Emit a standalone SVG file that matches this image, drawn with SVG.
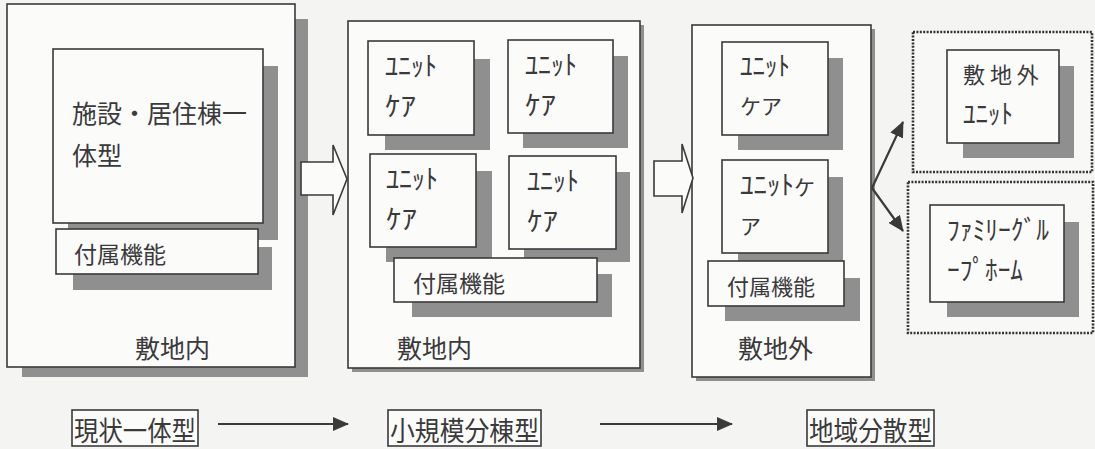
<svg xmlns="http://www.w3.org/2000/svg" width="1095" height="449" viewBox="0 0 1095 449">
<style>
.bg{fill:#f4f4f2}
.sh{fill:#8f8f8f}
.bx{fill:#fbfbfa;stroke:#3a3a3a;stroke-width:1.6}
.dot{fill:#f8f8f6;stroke:#333;stroke-width:2.6;stroke-dasharray:2 1.4}
.t{font-family:"Noto Sans CJK JP","Noto Sans CJK SC",sans-serif;fill:#3a3a3a}
.big{font-size:25px}
.mid{font-size:23px}
.kana{font-size:27px}
.lbl{font-size:25px}
.ln{stroke:#3a3a3a;stroke-width:2.2;fill:none}
.hol{fill:#fbfbfa;stroke:#3a3a3a;stroke-width:1.6}
</style>
<defs>
<marker id="ah" viewBox="0 0 16 14" refX="15" refY="7" markerWidth="16" markerHeight="14" markerUnits="userSpaceOnUse" orient="auto">
<path d="M0,0 L16,7 L0,14 z" fill="#3a3a3a"/>
</marker>
</defs>
<rect class="bg" x="0" y="0" width="1095" height="449"/>

<!-- Panel 1 -->
<g id="panel1">
<rect class="sh" x="22" y="19" width="286" height="358"/>
<rect class="bx" x="7" y="4" width="288" height="363"/>
<text class="t lbl" x="135" y="358">敷地内</text>
</g>
<g id="p1-main">
<rect class="sh" x="68" y="66" width="210" height="174"/>
<rect class="bx" x="53" y="49" width="210" height="174"/>
<text class="t big" x="72" y="123">施設・居住棟一</text>
<text class="t big" x="72" y="165">体型</text>
</g>
<g id="p1-fuzoku">
<rect class="sh" x="73" y="247" width="199" height="43"/>
<rect class="bx" x="56" y="229" width="202" height="45"/>
<text class="t mid" x="74" y="263">付属機能</text>
</g>

<!-- Panel 2 -->
<g id="panel2">
<rect class="sh" x="352" y="25" width="292" height="347"/>
<rect class="bx" x="348" y="21" width="292" height="347"/>
<text class="t lbl" x="397" y="358">敷地内</text>
</g>
<g id="p2-u1">
<rect class="sh" x="385" y="59" width="105" height="91"/>
<rect class="bx" x="368" y="41" width="106" height="94"/>
<text class="t kana" x="385" y="76" textLength="52" lengthAdjust="spacingAndGlyphs">ﾕﾆｯﾄ</text>
<text class="t kana" x="385" y="116" textLength="31" lengthAdjust="spacingAndGlyphs">ｹｱ</text>
</g>
<g id="p2-u2">
<rect class="sh" x="523" y="56" width="105" height="92"/>
<rect class="bx" x="508" y="40" width="105" height="93"/>
<text class="t kana" x="525" y="75" textLength="52" lengthAdjust="spacingAndGlyphs">ﾕﾆｯﾄ</text>
<text class="t kana" x="525" y="115" textLength="31" lengthAdjust="spacingAndGlyphs">ｹｱ</text>
</g>
<g id="p2-u3">
<rect class="sh" x="386" y="171" width="106" height="91"/>
<rect class="bx" x="370" y="154" width="106" height="93"/>
<text class="t kana" x="386" y="189" textLength="52" lengthAdjust="spacingAndGlyphs">ﾕﾆｯﾄ</text>
<text class="t kana" x="386" y="229" textLength="31" lengthAdjust="spacingAndGlyphs">ｹｱ</text>
</g>
<g id="p2-u4">
<rect class="sh" x="524" y="172" width="106" height="90"/>
<rect class="bx" x="509" y="156" width="107" height="93"/>
<text class="t kana" x="527" y="191" textLength="52" lengthAdjust="spacingAndGlyphs">ﾕﾆｯﾄ</text>
<text class="t kana" x="527" y="231" textLength="31" lengthAdjust="spacingAndGlyphs">ｹｱ</text>
</g>
<g id="p2-fuzoku">
<rect class="sh" x="412" y="274" width="200" height="43"/>
<rect class="bx" x="394" y="258" width="203" height="44"/>
<text class="t mid" x="413" y="292">付属機能</text>
</g>

<!-- Panel 3 -->
<g id="panel3">
<rect class="sh" x="696" y="29" width="179" height="352"/>
<rect class="bx" x="692" y="25" width="179" height="352"/>
<text class="t lbl" x="738" y="358">敷地外</text>
</g>
<g id="p3-u1">
<rect class="sh" x="738" y="58" width="105" height="92"/>
<rect class="bx" x="722" y="42" width="106" height="93"/>
<text class="t kana" x="740" y="76" textLength="50" lengthAdjust="spacingAndGlyphs">ﾕﾆｯﾄ</text>
<text class="t" style="font-size:21px" x="740" y="114">ケア</text>
</g>
<g id="p3-u2">
<rect class="sh" x="738" y="177" width="105" height="88"/>
<rect class="bx" x="722" y="160" width="106" height="93"/>
<text class="t kana" x="740" y="195">ﾕﾆｯﾄ<tspan style="font-size:21px">ケ</tspan></text>
<text class="t" style="font-size:21px" x="740" y="234">ア</text>
</g>
<g id="p3-fuzoku">
<rect class="sh" x="725" y="278" width="135" height="43"/>
<rect class="bx" x="708" y="261" width="136" height="45"/>
<text class="t" style="font-size:22px" x="727" y="295">付属機能</text>
</g>

<!-- Right side -->
<g id="offsite-group">
<rect class="dot" x="913" y="32" width="179" height="140"/>
</g>
<g id="offsite-unit">
<rect class="sh" x="963" y="66" width="111" height="92"/>
<rect class="bx" x="947" y="50" width="112" height="93"/>
<text class="t" style="font-size:22px" x="963" y="83">敷 地 外</text>
<text class="t kana" x="963" y="124" textLength="50" lengthAdjust="spacingAndGlyphs">ﾕﾆｯﾄ</text>
</g>
<g id="family-group">
<rect class="dot" x="908" y="182" width="185" height="151"/>
</g>
<g id="family-home">
<rect class="sh" x="947" y="222" width="132" height="95"/>
<rect class="bx" x="930" y="205" width="134" height="97"/>
<text class="t kana" x="947" y="240" textLength="102" lengthAdjust="spacingAndGlyphs">ﾌｧﾐﾘｰｸﾞﾙ</text>
<text class="t kana" x="947" y="280" textLength="76" lengthAdjust="spacingAndGlyphs">ｰﾌﾟﾎｰﾑ</text>
</g>

<!-- Bottom labels -->
<g id="lbl1">
<rect class="bx" x="72" y="410" width="126" height="36"/>
<text class="t" style="font-size:27px" x="74" y="441" textLength="122" lengthAdjust="spacingAndGlyphs">現状一体型</text>
</g>
<g id="lbl2">
<rect class="bx" x="388" y="410" width="153" height="36"/>
<text class="t" style="font-size:27px" x="390" y="441" textLength="149" lengthAdjust="spacingAndGlyphs">小規模分棟型</text>
</g>
<g id="lbl3">
<rect class="bx" x="807" y="410" width="127" height="36"/>
<text class="t" style="font-size:27px" x="809" y="441" textLength="123" lengthAdjust="spacingAndGlyphs">地域分散型</text>
</g>

<!-- Connectors -->
<g id="connectors">
<path class="hol" d="M301,162 L333,162 L333,145 L347,179 L333,215 L333,195 L301,195 Z"/>
<path class="hol" d="M654,161 L682,161 L682,144 L693,178 L682,213 L682,196 L654,196 Z"/>
<line class="ln" x1="872" y1="188" x2="903" y2="122" marker-end="url(#ah)"/>
<line class="ln" x1="872" y1="188" x2="903" y2="231" marker-end="url(#ah)"/>
<line class="ln" x1="218" y1="424" x2="348" y2="424" marker-end="url(#ah)"/>
<line class="ln" x1="600" y1="424" x2="732" y2="424" marker-end="url(#ah)"/>
</g>
</svg>
